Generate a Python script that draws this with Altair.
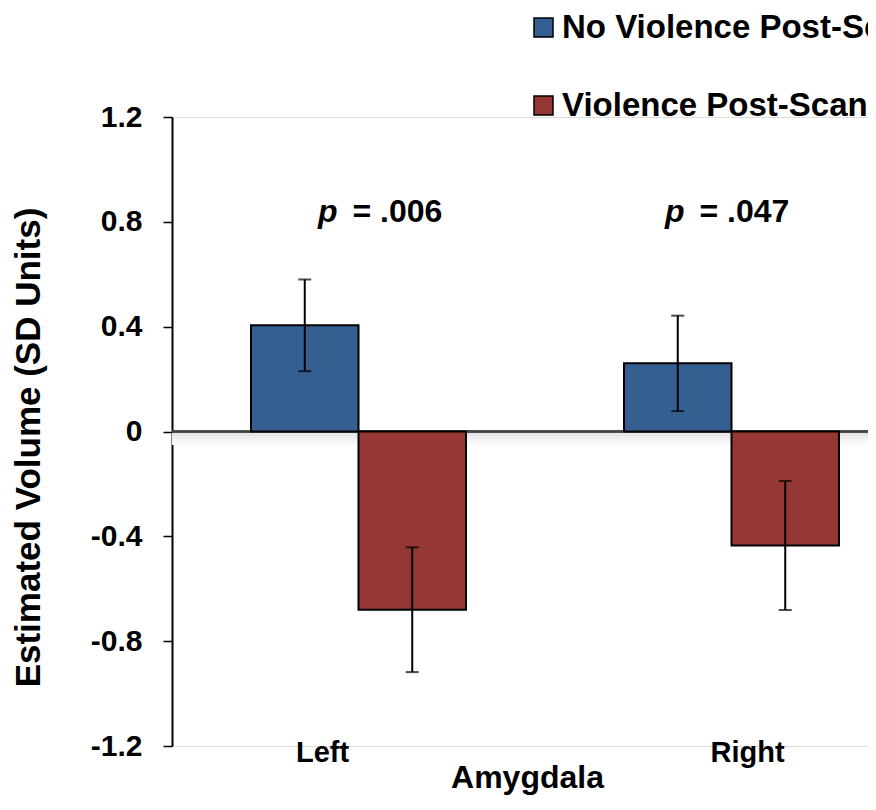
import altair as alt
import pandas as pd

# ---- data ----
regions = ["Left", "Right"]
series = ["No Violence Post-Scan", "Violence Post-Scan"]
means_no_violence = [0.405, 0.26]
means_violence = [-0.68, -0.435]
err_no_violence = [0.175, 0.182]
err_violence = [0.238, 0.246]
p_values = [".006", ".047"]
p_label_y = [0.8, 0.8]
y_ticks = [-1.2, -0.8, -0.4, 0, 0.4, 0.8, 1.2]

colors = ["#365F91", "#953735"]
FONT = "Liberation Sans"

rows = []
for i, r in enumerate(regions):
    rows.append({"region": r, "series": series[0], "mean": means_no_violence[i],
                 "lo": means_no_violence[i] - err_no_violence[i],
                 "hi": means_no_violence[i] + err_no_violence[i]})
    rows.append({"region": r, "series": series[1], "mean": means_violence[i],
                 "lo": means_violence[i] - err_violence[i],
                 "hi": means_violence[i] + err_violence[i]})
df = pd.DataFrame(rows)

x_enc = alt.X("region:N", sort=regions,
              scale=alt.Scale(range=[0, 746], paddingInner=0, paddingOuter=0),
              axis=alt.Axis(title="Amygdala", labelAngle=0, domain=False, ticks=False,
                            labelPadding=-8,
                            labelOffset={"condition": {"test": "datum.value == 'Left'", "value": -36},
                                         "value": 16},
                            labelFont=FONT, labelFontSize=29, labelFontWeight="bold",
                            labelColor="black",
                            titleFont=FONT, titleFontSize=32, titleFontWeight="bold",
                            titleColor="black", titleBaseline="alphabetic",
                            titleX=355, titleY=41))
xoff_enc = alt.XOffset("series:N", sort=series,
                       scale=alt.Scale(paddingInner=0, paddingOuter=0.735))
y_scale = alt.Scale(domain=[-1.2, 1.2], nice=False, zero=False)
y_axis = alt.Axis(title="Estimated Volume (SD Units)", values=y_ticks,
                  labelExpr="'' + datum.value", grid=False,
                  domainColor="black", domainWidth=2, tickColor="black", tickWidth=1.5,
                  tickSize=9, labelPadding=21,
                  labelFont=FONT, labelFontSize=30, labelFontWeight="bold", labelColor="black",
                  titleFont=FONT, titleFontSize=35, titleFontWeight="bold", titleColor="black",
                  titleX=-144, titleY=330, titleBaseline="middle", titleAngle=270)

base = alt.Chart(df)

shadow_layers = []
for off, col in [(3, "#e6e6e6"), (6, "#eeeeee"), (9, "#f4f4f4"), (12, "#fafafa")]:
    shadow_layers.append(
        base.mark_rule(color=col, strokeWidth=3, yOffset=off).encode(y=alt.datum(0, scale=y_scale))
    )

zero_line = base.mark_rule(color="#444444", strokeWidth=2).encode(y=alt.datum(0))

bars = base.mark_bar(stroke="black", strokeWidth=2).encode(
    x=x_enc,
    xOffset=xoff_enc,
    y=alt.Y("mean:Q", scale=y_scale, axis=y_axis),
    y2=alt.datum(0),
    color=alt.Color("series:N", sort=series,
                    scale=alt.Scale(domain=series, range=colors),
                    legend=alt.Legend(title=None, orient="none", legendX=355, legendY=-106,
                                      padding=0, direction="vertical", symbolType="square",
                                      symbolSize=361, symbolStrokeColor="black",
                                      symbolStrokeWidth=1.5, labelFont=FONT,
                                      labelFontSize=33, labelFontWeight="bold",
                                      labelColor="black", labelLimit=0, labelOffset=2,
                                      rowPadding=44)),
)

err_rule = base.mark_rule(color="black", strokeWidth=2).encode(
    x=alt.X("region:N", sort=regions), xOffset=alt.XOffset("series:N", sort=series),
    y="lo:Q", y2="hi:Q")
cap_lo = base.mark_tick(color="black", thickness=2, size=13, orient="horizontal").encode(
    x=alt.X("region:N", sort=regions), xOffset=alt.XOffset("series:N", sort=series), y="lo:Q")
cap_hi = base.mark_tick(color="black", thickness=2, size=13, orient="horizontal").encode(
    x=alt.X("region:N", sort=regions), xOffset=alt.XOffset("series:N", sort=series), y="hi:Q")

pdf = pd.DataFrame({"region": regions, "pval": p_values, "y": p_label_y})
p_dx = [(-21, -6), (-47, -32)]
p_layers = []
for i, r in enumerate(regions):
    sub = alt.Chart(pdf).transform_filter(alt.datum.region == r)
    p_layers.append(sub.mark_text(font=FONT, fontSize=32, fontWeight="bold", fontStyle="italic",
                                  align="right", baseline="alphabetic", dx=p_dx[i][0], color="black")
                    .encode(x=alt.X("region:N", sort=regions), y="y:Q", text=alt.value("p")))
    p_layers.append(sub.transform_calculate(lab="'= ' + datum.pval")
                    .mark_text(font=FONT, fontSize=32, fontWeight="bold",
                               align="left", baseline="alphabetic", dx=p_dx[i][1], color="black")
                    .encode(x=alt.X("region:N", sort=regions), y="y:Q", text="lab:N"))

chart = alt.layer(*shadow_layers, zero_line, bars, err_rule, cap_lo, cap_hi, *p_layers).properties(
    width=696, height=629,
    autosize=alt.AutoSizeParams(type="none"),
    padding={"left": 164, "top": 109, "right": 0, "bottom": 51},
).configure_view(stroke=None).configure(background="white")

chart.save("out.html", embed_options={"renderer": "svg", "actions": False})
